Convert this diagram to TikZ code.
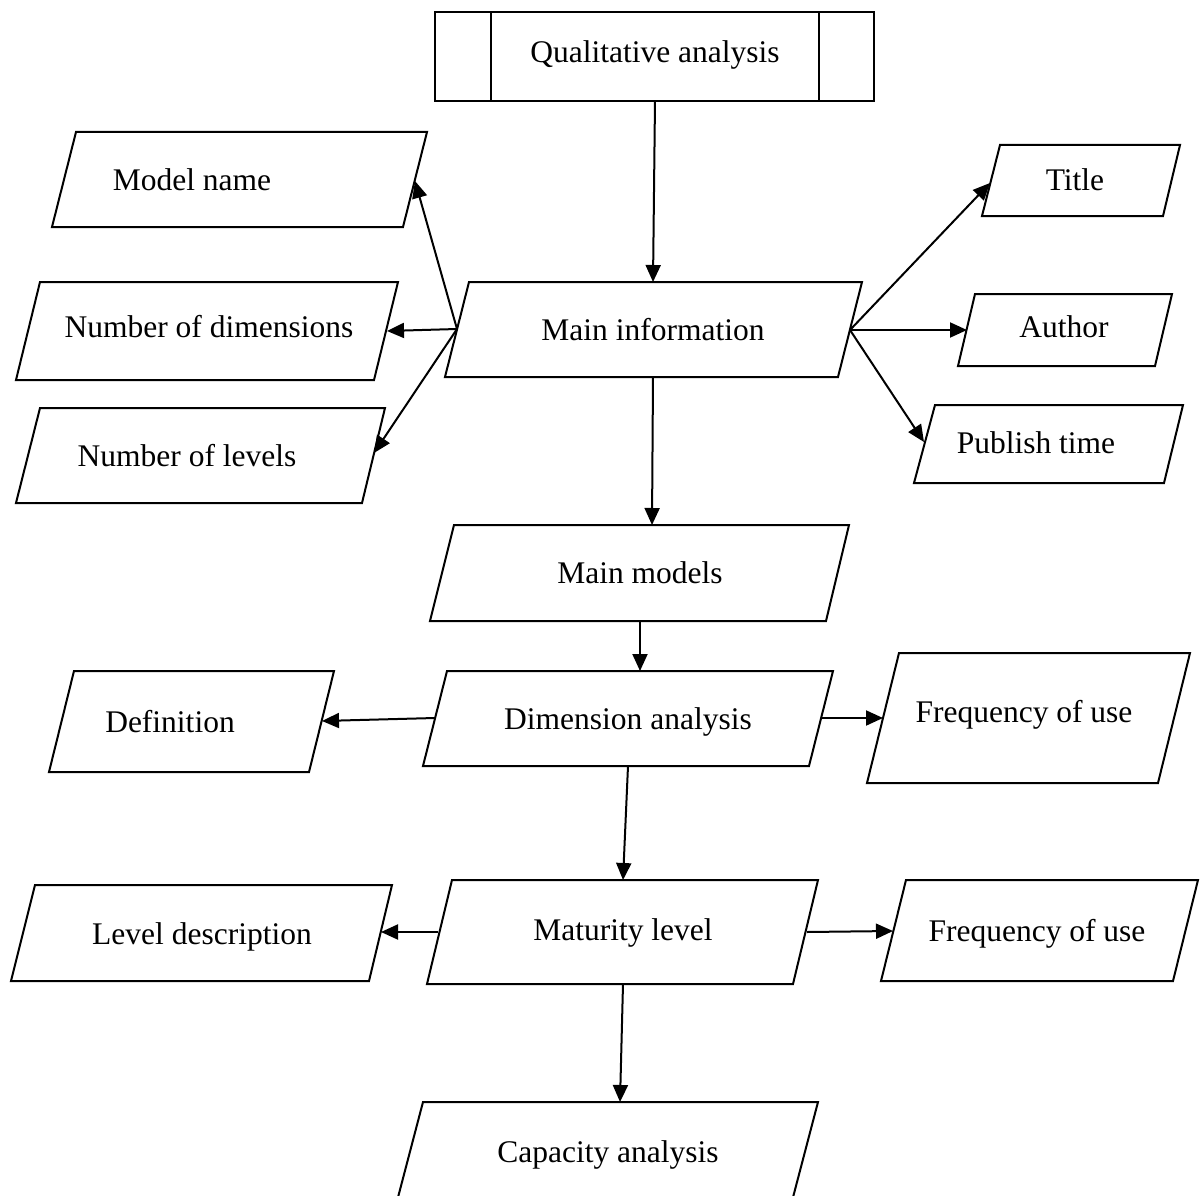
\documentclass[tikz,border=0pt]{standalone}
\usepackage{fontspec}
\setmainfont{Liberation Serif}
\usetikzlibrary{arrows.meta}
\begin{document}
\begin{tikzpicture}[x=1pt,y=-1pt,
  box/.style={draw=black, line width=2pt, line join=miter},
  lbl/.style={anchor=base, inner sep=0pt, font=\fontsize{31.5}{38}\selectfont},
  conn/.style={line width=2pt, -{Triangle[length=17pt,width=15pt]}}]
\useasboundingbox (0,0) rectangle (1200,1196);

% Qualitative analysis (predefined process)
\draw[box] (435,12) rectangle (874,101);
\draw[box] (491,12) -- (491,101) (819,12) -- (819,101);
\node[lbl] (qa) at (655,63) {Qualitative analysis};

% Left column (top)
\draw[box] (76,132) -- (427,132) -- (403,227) -- (52,227) -- cycle;
\node[lbl] (mn) at (192,190) {Model name};
\draw[box] (40,282) -- (398,282) -- (374,380) -- (16,380) -- cycle;
\node[lbl] (nd) at (209,337) {Number of dimensions};
\draw[box] (40,408) -- (385,408) -- (362,503) -- (16,503) -- cycle;
\node[lbl] (nl) at (187,466) {Number of levels};

% Main information
\draw[box] (469,282) -- (862,282) -- (838,377) -- (445,377) -- cycle;
\node[lbl] (mi) at (653,340) {Main information};

% Right column (top)
\draw[box] (1000,145) -- (1180,145) -- (1163,216) -- (982,216) -- cycle;
\node[lbl] (ti) at (1075,190) {Title};
\draw[box] (975,294) -- (1172,294) -- (1155,366) -- (958,366) -- cycle;
\node[lbl] (au) at (1064,337) {Author};
\draw[box] (935,405) -- (1183,405) -- (1164,483) -- (914,483) -- cycle;
\node[lbl] (pt) at (1036,453) {Publish time};

% Main models
\draw[box] (454,525) -- (849,525) -- (826,621) -- (430,621) -- cycle;
\node[lbl] (mm) at (640,583) {Main models};

% Dimension analysis row
\draw[box] (447,671) -- (833,671) -- (809,766) -- (423,766) -- cycle;
\node[lbl] (da) at (628,729) {Dimension analysis};
\draw[box] (74,671) -- (334,671) -- (309,772) -- (49,772) -- cycle;
\node[lbl] (df) at (170,732) {Definition};
\draw[box] (899,653) -- (1190,653) -- (1158,783) -- (867,783) -- cycle;
\node[lbl] (f1) at (1024,722) {Frequency of use};

% Maturity level row
\draw[box] (452,880) -- (818,880) -- (793,984) -- (427,984) -- cycle;
\node[lbl] (ml) at (623,940) {Maturity level};
\draw[box] (35,885) -- (392,885) -- (369,981) -- (11,981) -- cycle;
\node[lbl] (ld) at (202,944) {Level description};
\draw[box] (906,880) -- (1198,880) -- (1173,981) -- (881,981) -- cycle;
\node[lbl] (f2) at (1037,941) {Frequency of use};

% Capacity analysis (cut by the bottom edge)
\draw[box] (396,1205) -- (423,1102) -- (818,1102) -- (791,1205);
\node[lbl] (ca) at (608,1162) {Capacity analysis};

% connection points
\coordinate (qa-s) at (655,101);
\coordinate (mi-n) at (653,282);
\coordinate (mi-s) at (653,377);
\coordinate (mi-w) at (457,329);
\coordinate (mi-e) at (850,330);
\coordinate (mn-e) at (415,181);
\coordinate (nd-e) at (387,331);
\coordinate (nl-e) at (374,453);
\coordinate (ti-w) at (990,183);
\coordinate (au-w) at (967,330);
\coordinate (pt-w) at (924,442);
\coordinate (mm-n) at (652,525);
\coordinate (mm-s) at (640,621);
\coordinate (da-n) at (640,671);
\coordinate (da-s) at (628,766);
\coordinate (da-w) at (435,718);
\coordinate (da-e) at (822,718);
\coordinate (df-e) at (322,721);
\coordinate (f1-w) at (883,718);
\coordinate (ml-n) at (623,880);
\coordinate (ml-s) at (623,984);
\coordinate (ml-w) at (438,932);
\coordinate (ml-e) at (807,932);
\coordinate (ld-e) at (381,932);
\coordinate (f2-w) at (893,931);
\coordinate (ca-n) at (620,1102);

% connectors
\draw[conn] (qa-s) -- (mi-n);
\draw[conn] (mi-s) -- (mm-n);
\draw[conn] (mi-w) -- (mn-e);
\draw[conn] (mi-w) -- (nd-e);
\draw[conn] (mi-w) -- (nl-e);
\draw[conn] (mi-e) -- (ti-w);
\draw[conn] (mi-e) -- (au-w);
\draw[conn] (mi-e) -- (pt-w);
\draw[conn] (mm-s) -- (da-n);
\draw[conn] (da-w) -- (df-e);
\draw[conn] (da-e) -- (f1-w);
\draw[conn] (da-s) -- (ml-n);
\draw[conn] (ml-w) -- (ld-e);
\draw[conn] (ml-e) -- (f2-w);
\draw[conn] (ml-s) -- (ca-n);
\end{tikzpicture}
\end{document}
